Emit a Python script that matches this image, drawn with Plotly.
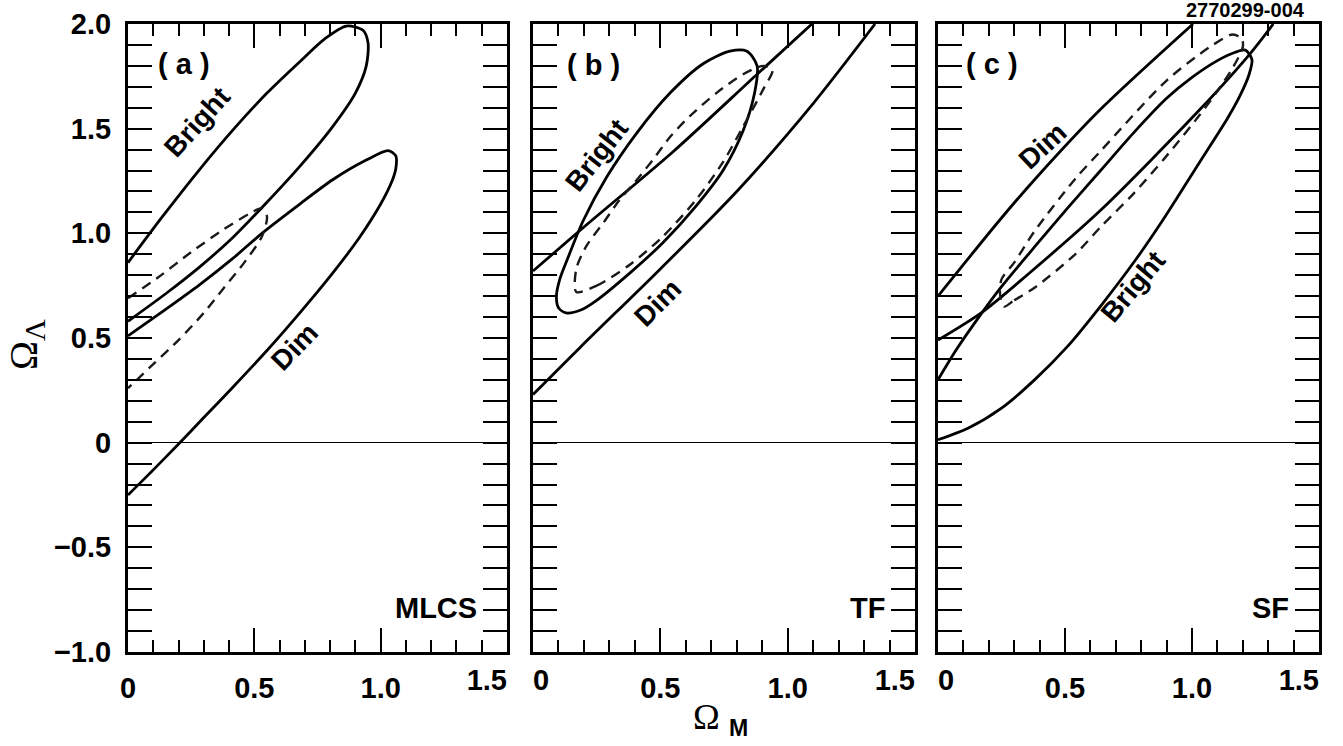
import plotly.graph_objects as go

# ---------------- data ----------------
# Panel (a) MLCS
a_bright_x = [0.0, 0.13, 0.28, 0.42, 0.55, 0.68, 0.78, 0.864, 0.93, 0.95, 0.943, 0.90, 0.81, 0.68, 0.548, 0.415, 0.284, 0.153, 0.0]
a_bright_y = [0.86, 1.07, 1.30, 1.50, 1.67, 1.82, 1.93, 1.99, 1.97, 1.91, 1.80, 1.67, 1.51, 1.32, 1.146, 0.98, 0.84, 0.715, 0.58]
a_dim_x = [0.0, 0.153, 0.284, 0.415, 0.53, 0.68, 0.81, 0.943, 1.03, 1.06, 1.06, 1.045, 1.0, 0.916, 0.81, 0.68, 0.55, 0.415, 0.30, 0.205, 0.10, 0.0]
a_dim_y = [0.51, 0.64, 0.755, 0.88, 1.0, 1.14, 1.256, 1.35, 1.395, 1.37, 1.31, 1.25, 1.14, 0.98, 0.81, 0.62, 0.44, 0.265, 0.12, 0.0, -0.13, -0.25]
a_dash_x = [0.0, 0.12, 0.25, 0.38, 0.49, 0.53, 0.55, 0.53, 0.46, 0.38, 0.30, 0.20, 0.10, 0.0]
a_dash_y = [0.69, 0.79, 0.91, 1.02, 1.10, 1.12, 1.08, 0.985, 0.86, 0.74, 0.62, 0.49, 0.375, 0.26]

# Panel (b) TF
b_bright_x = [0.092, 0.105, 0.133, 0.197, 0.29, 0.408, 0.538, 0.668, 0.773, 0.84, 0.88, 0.87, 0.825, 0.746, 0.64, 0.51, 0.38, 0.25, 0.19, 0.13, 0.10, 0.092]
b_bright_y = [0.70, 0.78, 0.87, 1.06, 1.27, 1.48, 1.67, 1.81, 1.87, 1.87, 1.80, 1.67, 1.49, 1.30, 1.13, 0.955, 0.81, 0.68, 0.635, 0.62, 0.645, 0.70]
b_dash_x = [0.17, 0.25, 0.38, 0.51, 0.64, 0.746, 0.825, 0.905, 0.94, 0.905, 0.825, 0.72, 0.616, 0.538, 0.47, 0.408, 0.34, 0.276, 0.21, 0.17, 0.17]
b_dash_y = [0.72, 0.75, 0.85, 0.985, 1.16, 1.34, 1.51, 1.69, 1.78, 1.80, 1.76, 1.67, 1.56, 1.46, 1.35, 1.256, 1.16, 1.05, 0.94, 0.83, 0.72]
b_dim1_x = [0.0, 0.2, 0.55, 0.88, 1.095]
b_dim1_y = [0.82, 1.03, 1.39, 1.76, 2.0]
b_dim2_x = [0.0, 0.185, 0.5, 0.8, 1.1, 1.343]
b_dim2_y = [0.23, 0.455, 0.83, 1.20, 1.62, 2.0]

# Panel (c) SF
c_bright_x = [0.0, 0.07, 0.17, 0.25, 0.38, 0.51, 0.64, 0.77, 0.90, 1.0, 1.10, 1.17, 1.21, 1.236, 1.225, 1.19, 1.14, 1.03, 0.886, 0.776, 0.645, 0.51, 0.38, 0.25, 0.12, 0.0]
c_bright_y = [0.30, 0.44, 0.615, 0.745, 0.935, 1.12, 1.30, 1.48, 1.645, 1.745, 1.825, 1.865, 1.875, 1.83, 1.76, 1.66, 1.55, 1.34, 1.065, 0.87, 0.66, 0.46, 0.30, 0.165, 0.07, 0.014]
c_dash_x = [0.26, 0.30, 0.38, 0.54, 0.64, 0.77, 0.90, 1.03, 1.10, 1.16, 1.20, 1.196, 1.16, 1.07, 0.90, 0.638, 0.54, 0.38, 0.30, 0.25, 0.245, 0.26]
c_dash_y = [0.65, 0.68, 0.74, 0.90, 1.03, 1.19, 1.37, 1.565, 1.68, 1.79, 1.89, 1.93, 1.95, 1.89, 1.73, 1.39, 1.26, 1.01, 0.86, 0.78, 0.70, 0.65]
c_dim1_x = [0.0, 0.244, 0.38, 0.638, 1.004]
c_dim1_y = [0.70, 1.065, 1.256, 1.59, 2.0]
c_dim2_x = [0.0, 0.17, 0.35, 0.64, 1.03, 1.23, 1.32]
c_dim2_y = [0.49, 0.62, 0.80, 1.11, 1.59, 1.86, 2.0]

x_major_vals = [[0.0, 0.5, 1.0], [0.5, 1.0], [0.5, 1.0]]
x_major_text = [["0", "0.5", "1.0"], ["0.5", "1.0"], ["0.5", "1.0"]]
y_tick_vals = [-1.0, -0.5, 0.0, 0.5, 1.0, 1.5, 2.0]
y_tick_text = ["\u22121.0", "\u22120.5", "0", "0.5", "1.0", "1.5", "2.0"]

panel_tags = ["( a )", "( b )", "( c )"]
method_names = ["MLCS", "TF", "SF"]

# ---------------- figure ----------------
SOLID = dict(color="black", width=2.8, shape="spline", smoothing=0.8)
DASH = dict(color="#1a1a1a", width=2.4, dash="10px,7px", shape="spline", smoothing=0.8)

fig = go.Figure()

def add(xs, ys, xa, ya, line):
    fig.add_trace(go.Scatter(x=xs, y=ys, mode="lines", line=line, xaxis=xa, yaxis=ya,
                             hoverinfo="skip", showlegend=False))

add(a_bright_x, a_bright_y, "x", "y", SOLID)
add(a_dim_x, a_dim_y, "x", "y", SOLID)
add(a_dash_x, a_dash_y, "x", "y", DASH)

add(b_bright_x, b_bright_y, "x2", "y2", SOLID)
add(b_dim1_x, b_dim1_y, "x2", "y2", SOLID)
add(b_dim2_x, b_dim2_y, "x2", "y2", SOLID)
add(b_dash_x, b_dash_y, "x2", "y2", DASH)

add(c_bright_x, c_bright_y, "x3", "y3", SOLID)
add(c_dim1_x, c_dim1_y, "x3", "y3", SOLID)
add(c_dim2_x, c_dim2_y, "x3", "y3", SOLID)
add(c_dash_x, c_dash_y, "x3", "y3", DASH)

W, H = 1343, 746
xdoms = [[128 / W, 507 / W], [533 / W, 915 / W], [938 / W, 1319 / W]]
ydom = [1 - 652 / H, 1 - 24 / H]

TICKFONT = dict(family="Liberation Sans", size=29, color="black", weight="bold")
MINOR = dict(tickmode="linear", tick0=0, dtick=0.1, ticks="inside", ticklen=12,
             tickwidth=1.5, tickcolor="black", showgrid=False)

layout_axes = {}
for i in range(3):
    xname = "xaxis" if i == 0 else f"xaxis{i+1}"
    yname = "yaxis" if i == 0 else f"yaxis{i+1}"
    yref = "y" if i == 0 else f"y{i+1}"
    layout_axes[xname] = dict(
        domain=xdoms[i], range=[0, 1.5], anchor=yref, automargin=False,
        showline=True, linewidth=3, linecolor="black", mirror="allticks",
        ticks="inside", ticklen=24, tickwidth=1.5, tickcolor="black",
        tickmode="array", tickvals=x_major_vals[i], ticktext=x_major_text[i],
        minor=MINOR, showgrid=False, zeroline=False,
        tickfont=TICKFONT, ticklabelstandoff=8, fixedrange=True,
    )
    layout_axes[yname] = dict(
        domain=ydom, range=[-1.0, 2.0], anchor="x" if i == 0 else f"x{i+1}", automargin=False,
        showline=True, linewidth=3, linecolor="black", mirror="allticks",
        ticks="inside", ticklen=24, tickwidth=1.5, tickcolor="black",
        tickmode="array", tickvals=y_tick_vals, ticktext=y_tick_text,
        showticklabels=(i == 0),
        minor=MINOR, showgrid=False,
        zeroline=True, zerolinecolor="black", zerolinewidth=1,
        tickfont=TICKFONT, ticklabelstandoff=8, fixedrange=True,
    )

# label-only axes for the edge labels: "1.5" ends at the right frame, "0" (b, c) starts at the left frame
extra = [("xaxis4", "x4", "x", "y", 1.5, "1.5", "outside left"),
         ("xaxis5", "x5", "x2", "y2", 0.0, "0", "outside right"),
         ("xaxis6", "x6", "x2", "y2", 1.5, "1.5", "outside left"),
         ("xaxis7", "x7", "x3", "y3", 0.0, "0", "outside right"),
         ("xaxis8", "x8", "x3", "y3", 1.5, "1.5", "outside left")]
for name, ref, over, anc, val, txt, pos in extra:
    layout_axes[name] = dict(
        overlaying=over, anchor=anc, side="bottom", range=[0, 1.5], automargin=False,
        tickmode="array", tickvals=[val], ticktext=[txt],
        ticks="", showline=False, showgrid=False, zeroline=False,
        ticklabelposition=pos, tickfont=TICKFONT, ticklabelstandoff=8, fixedrange=True,
    )
    fig.add_trace(go.Scatter(x=[], y=[], mode="lines", xaxis=ref, yaxis=anc,
                             hoverinfo="skip", showlegend=False))

LBL = dict(family="Liberation Sans", size=28, color="black", weight="bold")
annotations = []
refs = [("x", "y"), ("x2", "y2"), ("x3", "y3")]
tag_pos = [(0.22, 1.81), (0.237, 1.805), (0.211, 1.81)]
for i, (xr, yr) in enumerate(refs):
    annotations.append(dict(x=tag_pos[i][0], y=tag_pos[i][1], xref=xr, yref=yr, text=panel_tags[i],
                            showarrow=False, font=dict(family="Liberation Sans", size=29, color="black", weight="bold")))
    annotations.append(dict(x=1.39, y=-0.79, xref=xr, yref=yr, text=method_names[i], xanchor="right",
                            showarrow=False, font=dict(family="Liberation Sans", size=29, color="black", weight="bold")))

curve_labels = [
    ("Bright", "x", "y", 0.272, 1.53, -48),
    ("Dim", "x", "y", 0.66, 0.46, -46),
    ("Bright", "x2", "y2", 0.25, 1.37, -52),
    ("Dim", "x2", "y2", 0.49, 0.67, -45),
    ("Dim", "x3", "y3", 0.413, 1.42, -43),
    ("Bright", "x3", "y3", 0.768, 0.745, -50),
]
for t, xr, yr, xv, yv, ang in curve_labels:
    annotations.append(dict(x=xv, y=yv, xref=xr, yref=yr, text=t, textangle=ang,
                            showarrow=False, font=LBL))

# axis titles
annotations.append(dict(
    x=26 / W, y=1 - 345 / H, xref="paper", yref="paper", xanchor="center", yanchor="middle",
    textangle=-90, showarrow=False,
    text='\u03a9<sub><span style="font-size:30px">\u039b</span></sub>',
    font=dict(family="Liberation Serif", size=39, color="black")))
annotations.append(dict(
    x=721 / W, y=1 - 719 / H, xref="paper", yref="paper", xanchor="center", yanchor="middle",
    showarrow=False,
    text='<span style="font-family:Liberation Serif;font-weight:normal;font-size:36px">\u03a9</span> <sub>M</sub>',
    font=dict(family="Liberation Sans", size=33, color="black", weight="bold")))

annotations.append(dict(x=1245 / W, y=1.0 - 10 / H, xref="paper", yref="paper",
                        xanchor="center", yanchor="middle",
                        text="2770299-004", showarrow=False,
                        font=dict(family="Liberation Sans", size=20, color="black", weight="bold")))

fig.update_layout(
    width=W, height=H, margin=dict(l=0, r=0, t=0, b=0),
    paper_bgcolor="white", plot_bgcolor="white",
    font=dict(family="Liberation Sans", color="black"),
    showlegend=False, annotations=annotations,
    **layout_axes,
)

fig.write_html("out.html", config={"displayModeBar": False},
               post_script="document.body.style.margin='0';")
